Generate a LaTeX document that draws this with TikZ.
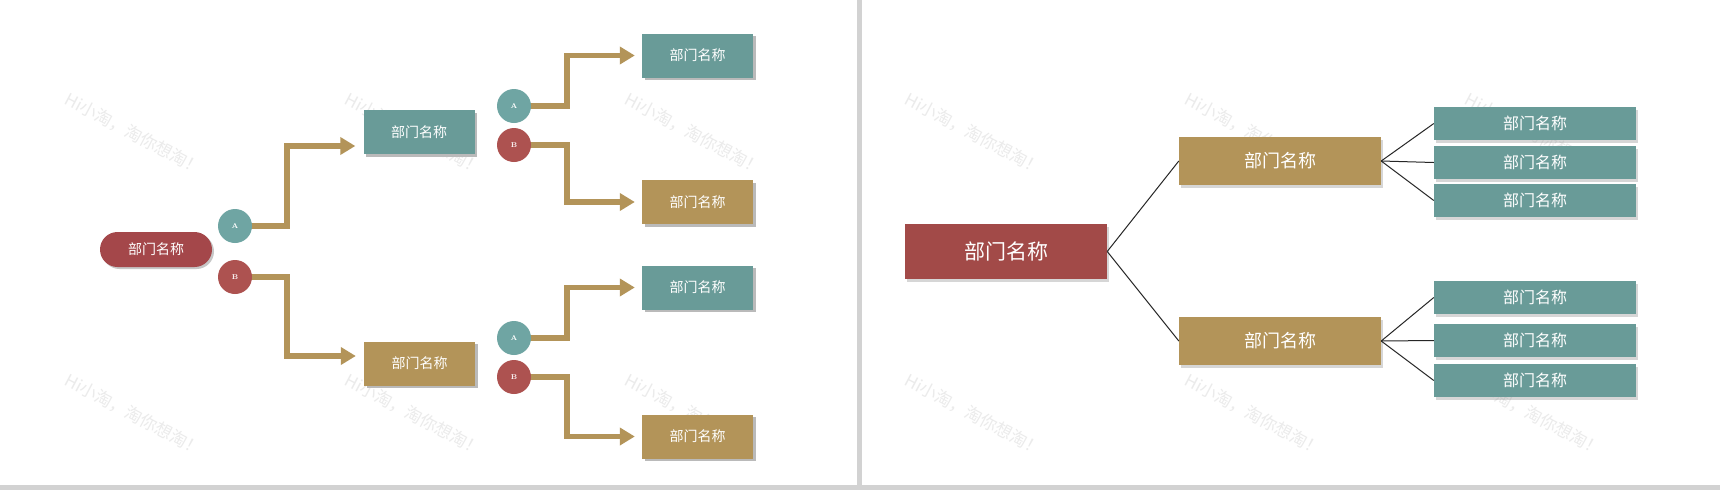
\documentclass[tikz,border=0pt]{standalone}
\usepackage{fontspec}
\newfontfamily\cjk{Noto Sans CJK SC}
\usetikzlibrary{arrows.meta,shadows,backgrounds}
\definecolor{tealbox}{HTML}{699B98}
\definecolor{goldbox}{HTML}{B39459}
\definecolor{pillred}{HTML}{A4474A}
\definecolor{redc}{HTML}{AD5250}
\definecolor{tealc}{HTML}{6FA5A3}
\definecolor{redbox}{HTML}{A24A48}
\definecolor{divgray}{HTML}{D2D2D2}
\definecolor{wmcol}{HTML}{EBEBEB}
\tikzset{
  lbox/.style={rectangle, inner sep=0pt, minimum width=111pt, minimum height=44pt,
    text=white, font=\cjk\fontsize{14}{14}\selectfont,
    drop shadow={shadow xshift=2.5pt, shadow yshift=-2.5pt, fill=black!27, opacity=1}},
  pill/.style={rectangle, rounded corners=17.5pt, inner sep=0pt, minimum width=112pt,
    minimum height=35pt, fill=pillred, text=white, font=\cjk\fontsize{14}{14}\selectfont,
    drop shadow={shadow xshift=2pt, shadow yshift=-2pt, fill=black!22, opacity=1}},
  badge/.style={circle, inner sep=0pt, minimum size=34pt, text=white,
    font=\bfseries\fontsize{7}{7}\selectfont},
  rbox/.style={rectangle, inner sep=0pt, minimum width=202pt, text=white,
    drop shadow={shadow xshift=2pt, shadow yshift=-3pt, fill=black!45, opacity=0.35}},
  garr/.style={draw=goldbox, line width=5.5pt, line join=miter,
    -{Triangle[length=15pt,width=17pt]}},
  rline/.style={draw=black!85, line width=1pt},
  wmark/.style={text=wmcol, rotate=-28, font=\cjk\fontsize{17}{17}\selectfont}
}
\begin{document}
\begin{tikzpicture}[x=1pt,y=-1pt]
\useasboundingbox (0,0) rectangle (1720,490);
% left half nodes
\node[pill] (root) at (156,249.5) {部门名称};
\node[badge, fill=tealc] (a1) at (235,226) {A};
\node[badge, fill=redc] (b1) at (235,277) {B};
\node[lbox, fill=tealbox] (m1) at (419,132) {部门名称};
\node[lbox, fill=goldbox] (m2) at (419.5,363.5) {部门名称};
\node[badge, fill=tealc] (a2) at (514,106) {A};
\node[badge, fill=redc] (b2) at (514,145) {B};
\node[badge, fill=tealc] (a3) at (514,338) {A};
\node[badge, fill=redc] (b3) at (514,377) {B};
\node[lbox, fill=tealbox] (n1) at (697.5,55.5) {部门名称};
\node[lbox, fill=goldbox] (n2) at (697.5,202) {部门名称};
\node[lbox, fill=tealbox] (n3) at (697.5,287.5) {部门名称};
\node[lbox, fill=goldbox] (n4) at (697.5,436.5) {部门名称};
% right half nodes
\node[rbox, fill=redbox, minimum height=55pt, font=\cjk\fontsize{21}{21}\selectfont] (r0) at (1006,251.5) {部门名称};
\node[rbox, fill=goldbox, minimum height=48pt, font=\cjk\fontsize{18}{18}\selectfont] (g1) at (1280,161) {部门名称};
\node[rbox, fill=goldbox, minimum height=48pt, font=\cjk\fontsize{18}{18}\selectfont] (g2) at (1280,341) {部门名称};
\foreach \nm/\yy in {t1/123.5, t2/162.5, t3/200.5, t4/297.5, t5/340.5, t6/380.5}
  \node[rbox, fill=tealbox, minimum height=33pt, font=\cjk\fontsize{16}{16}\selectfont] (\nm) at (1535,\yy) {部门名称};
% divider and bottom bar
\fill[divgray] (857,0) rectangle (862,485);
\fill[divgray] (0,485) rectangle (1720,490);
\begin{scope}[on background layer]
  \fill[white] (0,0) rectangle (1720,490);
  \foreach \xx in {134,414,694,974,1254,1534}
    \foreach \yy in {134,415}
      \node[wmark] (w-\xx-\yy) at (\xx,\yy) {Hi小淘，淘你想淘！};
  \draw[garr] (a1.center) -- (287,226) |- ([xshift=-8pt,yshift=-14pt]m1.west);
  \draw[garr] (b1.center) -- (287,277) |- ([xshift=-8pt,yshift=7.5pt]m2.west);
  \draw[garr] (a2.center) -- (567,106) |- ([xshift=-7pt]n1.west);
  \draw[garr] (b2.center) -- (567,145) |- ([xshift=-7pt]n2.west);
  \draw[garr] (a3.center) -- (567,338) |- ([xshift=-7pt]n3.west);
  \draw[garr] (b3.center) -- (567,377) |- ([xshift=-7pt]n4.west);
\end{scope}
% right connectors
\draw[rline] (r0.east) -- (g1.west);
\draw[rline] (r0.east) -- (g2.west);
\foreach \t in {t1,t2,t3} \draw[rline] (g1.east) -- (\t.west);
\foreach \t in {t4,t5,t6} \draw[rline] (g2.east) -- (\t.west);
\end{tikzpicture}
\end{document}
